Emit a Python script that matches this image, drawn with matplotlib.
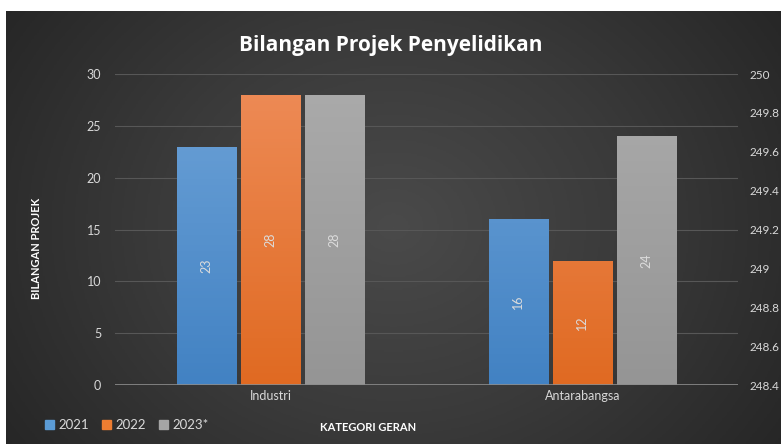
import numpy as np
import matplotlib
matplotlib.use("Agg")
import matplotlib.pyplot as plt
from matplotlib.colors import LinearSegmentedColormap

categories = ["Industri", "Antarabangsa"]
years = ["2021", "2022", "2023*"]
val_2021 = [23, 16]
val_2022 = [28, 12]
val_2023 = [28, 24]
series = [val_2021, val_2022, val_2023]

# gradient top/bottom colours per series
bar_top = ["#6ea3d8", "#ee8c58", "#ababab"]
bar_bot = ["#4282c3", "#e06a22", "#959595"]
legend_col = ["#5b9bd5", "#ed7d31", "#a5a5a5"]

plt.rcParams["font.family"] = ["Lato", "DejaVu Sans"]

fig = plt.figure(figsize=(7.81, 4.44), dpi=100)
fig.patch.set_facecolor("white")

# dark radial background
bg = fig.add_axes([6 / 781, 0, 1 - 6 / 781, 1 - 11 / 444])
bg.set_axis_off()
yy, xx = np.mgrid[-1:1:300j, -1:1:500j]
r = np.sqrt((xx * 0.9) ** 2 + (yy * 0.6) ** 2)
bg_cmap = LinearSegmentedColormap.from_list("bg", ["#4a4a4a", "#3a3a3a", "#262626"])
bg.imshow(r, cmap=bg_cmap, aspect="auto", extent=[0, 1, 0, 1], vmin=0, vmax=1.1)
bg.set_xlim(0, 1)
bg.set_ylim(0, 1)

ax = fig.add_axes([115 / 781, 1 - 385 / 444, 623 / 781, 311 / 444])
ax.set_facecolor("none")
for s in ax.spines.values():
    s.set_visible(False)

x = np.arange(len(categories))
width = 0.19
step = 0.205
for i, vals in enumerate(series):
    pos = x + (i - 1) * step
    bars = ax.bar(pos, vals, width, color="none", zorder=3)
    cmap = LinearSegmentedColormap.from_list("b%d" % i, [bar_bot[i], bar_top[i]])
    for b, v in zip(bars, vals):
        bx, bw = b.get_x(), b.get_width()
        grad = np.linspace(0, 1, 100).reshape(-1, 1)
        im = ax.imshow(grad, cmap=cmap, aspect="auto", origin="lower",
                       extent=[bx, bx + bw, 0, 30], zorder=3)
        im.set_clip_path(b)
        ax.text(bx + bw / 2, v / 2, str(v), rotation=90, ha="center", va="center",
                color="#dcdcdc", fontsize=9, zorder=4)

ax.set_xlim(-0.5, 1.5)
ax.set_ylim(0, 30)
ax.set_yticks(range(0, 31, 5))
ax.set_xticks(x)
ax.set_xticklabels(categories)
ax.tick_params(colors="#d9d9d9", labelsize=9, length=0)
ax.tick_params(axis="y", pad=10)
ax.grid(axis="y", color="#575757", linewidth=0.8, zorder=0)
ax.set_axisbelow(True)
ax.axhline(0, color="#8c8c8c", linewidth=1.2, zorder=5)

ax2 = ax.twinx()
for s in ax2.spines.values():
    s.set_visible(False)
ax2.set_ylim(248.4, 250)
ax2.set_yticks(np.arange(248.4, 250.01, 0.2))
ax2.set_yticklabels(["%g" % round(t, 1) for t in np.arange(248.4, 250.01, 0.2)])
ax2.tick_params(colors="#d9d9d9", labelsize=8.5, length=0, pad=8)

fig.text(0.5, 1 - 45 / 444, "Bilangan Projek Penyelidikan", ha="center", va="center",
         color="white", fontsize=15, fontweight="bold", family="Open Sans")
fig.text(37 / 781, 1 - 248 / 444, "BILANGAN PROJEK", rotation=90, ha="center",
         va="center", color="white", fontsize=8, fontweight="bold")
fig.text(368 / 781, 1 - 427 / 444, "KATEGORI GERAN", ha="center", va="center",
         color="white", fontsize=8, fontweight="bold")

handles = [plt.Rectangle((0, 0), 1, 1, color=c) for c in legend_col]
leg = fig.legend(handles, years, loc="center left", bbox_to_anchor=(33 / 781, 1 - 425 / 444),
                 ncol=3, frameon=False, fontsize=9.5, handlelength=0.7, handleheight=0.7,
                 handletextpad=0.3, columnspacing=1.0, labelcolor="#d9d9d9")

fig.savefig("out.png", dpi=100)
